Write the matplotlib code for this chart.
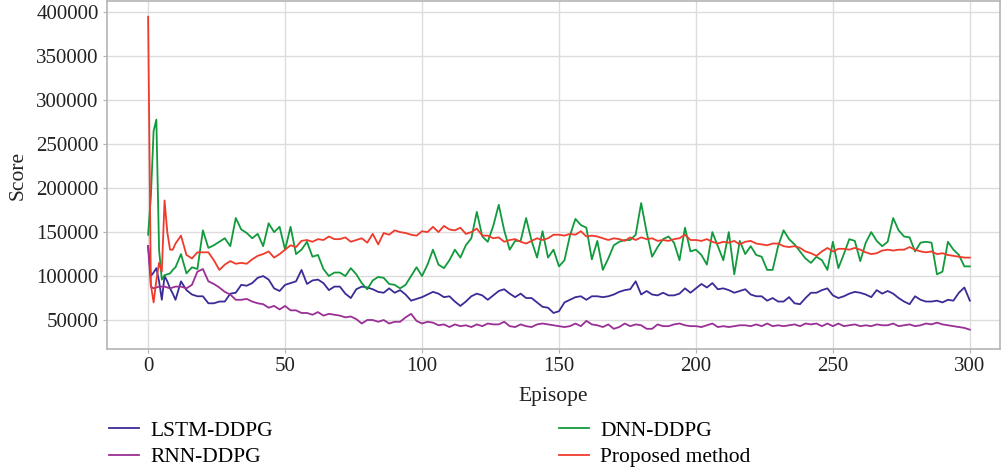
import numpy as np
import matplotlib
matplotlib.use("Agg")
import matplotlib.pyplot as plt

# episodes: every episode at the start, then every second one
episodes = list(range(0, 10)) + list(range(10, 301, 2))

# scores, in thousands
lstm_ddpg = [
    134, 100, 104, 109, 94, 73, 100, 94, 86, 80,
    73, 94, 84, 79, 77, 77, 69, 69, 71, 71,
    80, 81, 90, 89, 92, 98, 100, 96, 86, 83,
    90, 92, 94, 107, 91, 95, 96, 92, 84, 88,
    88, 80, 75, 85, 88, 87, 85, 82, 81, 86,
    81, 84, 79, 72, 74, 76, 79, 82, 80, 76,
    77, 71, 66, 71, 77, 80, 78, 73, 78, 83,
    85, 80, 76, 80, 75, 75, 70, 65, 64, 58,
    60, 70, 73, 76, 77, 73, 77, 77, 76, 77,
    79, 82, 84, 85, 94, 79, 83, 79, 78, 81,
    78, 78, 80, 86, 81, 86, 91, 87, 92, 85,
    86, 84, 81, 83, 85, 79, 77, 77, 72, 75,
    71, 71, 76, 69, 68, 75, 81, 81, 84, 86,
    78, 75, 77, 80, 82, 81, 79, 76, 84, 80,
    83, 80, 75, 71, 68, 77, 73, 71, 71, 72,
    70, 73, 72, 81, 87, 72,
]

rnn_ddpg = [
    134, 88, 86, 87, 88, 88, 88, 87, 86, 87,
    88, 88, 86, 90, 105, 108, 94, 91, 87, 82,
    79, 73, 73, 74, 71, 69, 68, 64, 66, 62,
    66, 61, 61, 58, 58, 56, 59, 55, 57, 56,
    55, 53, 54, 51, 46, 50, 50, 48, 50, 46,
    48, 48, 53, 57, 49, 46, 48, 47, 44, 45,
    42, 45, 43, 44, 42, 45, 43, 46, 45, 45,
    48, 43, 42, 45, 43, 42, 45, 46, 45, 44,
    43, 42, 43, 46, 43, 49, 45, 44, 42, 45,
    40, 42, 46, 43, 45, 44, 40, 40, 45, 43,
    43, 45, 46, 44, 43, 43, 42, 44, 46, 42,
    43, 42, 43, 44, 44, 43, 45, 43, 46, 43,
    44, 43, 44, 45, 43, 46, 45, 46, 43, 46,
    43, 46, 43, 44, 45, 43, 44, 43, 45, 44,
    44, 46, 43, 44, 45, 43, 44, 46, 45, 47,
    45, 44, 43, 42, 41, 39,
]

dnn_ddpg = [
    147, 190, 265, 278, 130, 96, 101, 102, 103, 107,
    110, 125, 103, 110, 108, 152, 132, 135, 139, 143,
    134, 166, 153, 149, 143, 148, 134, 160, 150, 156,
    130, 156, 125, 130, 139, 122, 124, 108, 100, 104,
    104, 100, 109, 102, 92, 85, 95, 99, 98, 91,
    90, 86, 90, 100, 110, 100, 113, 130, 113, 109,
    118, 130, 121, 135, 143, 173, 145, 139, 157, 181,
    152, 130, 140, 140, 166, 140, 121, 151, 121, 130,
    111, 118, 146, 165, 158, 155, 119, 140, 107, 120,
    135, 139, 141, 141, 147, 183, 150, 122, 133, 142,
    145, 138, 118, 155, 128, 130, 124, 113, 150, 134,
    118, 150, 102, 140, 125, 134, 124, 122, 107, 107,
    134, 152, 142, 136, 128, 120, 115, 122, 118, 107,
    139, 109, 125, 142, 140, 117, 138, 150, 140, 134,
    139, 166, 152, 145, 144, 128, 138, 139, 138, 102,
    105, 139, 130, 124, 111, 111,
]

proposed = [
    395, 90, 70, 95, 115, 105, 186, 150, 130, 130,
    137, 146, 124, 120, 127, 127, 127, 118, 107, 113,
    117, 114, 115, 114, 119, 123, 125, 128, 121, 125,
    130, 135, 133, 140, 141, 139, 142, 141, 145, 142,
    142, 144, 139, 141, 143, 138, 148, 136, 149, 147,
    152, 150, 149, 147, 146, 151, 150, 156, 150, 157,
    153, 152, 155, 148, 150, 154, 146, 146, 143, 144,
    139, 141, 142, 139, 137, 140, 143, 141, 143, 147,
    147, 146, 148, 147, 151, 145, 146, 145, 143, 141,
    143, 142, 140, 144, 141, 144, 142, 143, 140, 141,
    140, 142, 143, 147, 141, 141, 140, 142, 139, 137,
    139, 138, 140, 136, 139, 140, 137, 136, 135, 137,
    137, 134, 133, 134, 132, 128, 126, 123, 128, 132,
    128, 131, 131, 130, 132, 130, 127, 125, 126, 129,
    130, 129, 130, 130, 133, 130, 128, 127, 128, 125,
    126, 124, 123, 122, 121, 121,
]

for s in (lstm_ddpg, rnn_ddpg, dnn_ddpg, proposed):
    assert len(s) == len(episodes)

plt.rcParams["font.family"] = ["Liberation Serif", "DejaVu Serif"]

fig = plt.figure(figsize=(10.05, 4.71), dpi=100)
ax = fig.add_axes([0.1065, 0.259, 0.8885, 0.739])

x = np.array(episodes)
l1, = ax.plot(x, np.array(lstm_ddpg) * 1000, color="#3a2c96", lw=1.3, label="LSTM-DDPG")
l2, = ax.plot(x, np.array(rnn_ddpg) * 1000, color="#9a2f95", lw=1.3, label="RNN-DDPG")
l3, = ax.plot(x, np.array(dnn_ddpg) * 1000, color="#119a3b", lw=1.3, label="DNN-DDPG")
l4, = ax.plot(x, np.array(proposed) * 1000, color="#f03a2c", lw=1.3, label="Proposed method")

ax.set_xlim(-15, 311)
ax.set_ylim(17000, 413000)
ax.set_xticks(range(0, 301, 50))
ax.set_yticks(range(50000, 400001, 50000))
ax.grid(True, color="#dcdcdc", lw=1.0)
ax.set_axisbelow(True)
for sp in ax.spines.values():
    sp.set_color("#b4b4b4")
    sp.set_linewidth(1.2)
ax.tick_params(labelsize=15, colors="#b4b4b4", labelcolor="#222222", length=3, pad=3)
ax.set_xlabel("Episope", fontsize=15.5, color="#222222", labelpad=8)
ax.set_ylabel("Score", fontsize=15.5, color="#222222", labelpad=6)

leg_kw = dict(loc="upper left", frameon=False, fontsize=15.5, handlelength=1.4,
              labelspacing=0.3, handletextpad=0.5, borderaxespad=0)
fig.legend(handles=[l1, l2], bbox_to_anchor=(0.1, 0.125), **leg_kw)
fig.legend(handles=[l3, l4], bbox_to_anchor=(0.548, 0.125), **leg_kw)

fig.savefig("out.png", dpi=100)
